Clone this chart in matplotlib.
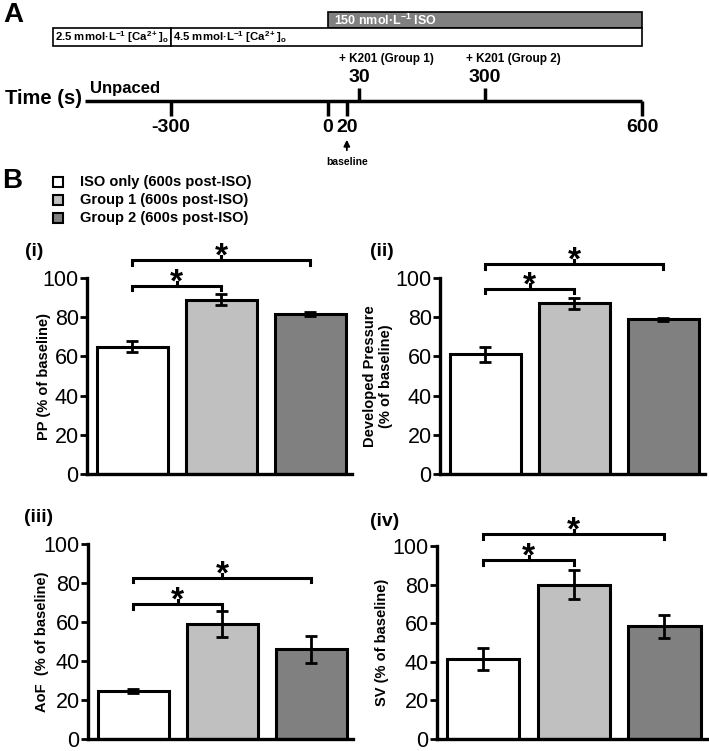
import numpy as np
import matplotlib
matplotlib.use('Agg')
import matplotlib.pyplot as plt
from matplotlib.patches import Rectangle

plt.rcParams['font.family'] = ['Liberation Sans', 'DejaVu Sans']
plt.rcParams['mathtext.fontset'] = 'custom'
plt.rcParams['mathtext.rm'] = 'Liberation Sans:bold'
plt.rcParams['mathtext.it'] = 'Liberation Sans:bold'
plt.rcParams['mathtext.bf'] = 'Liberation Sans:bold'

# ---- data ----
groups = ['ISO only (600s post-ISO)', 'Group 1 (600s post-ISO)', 'Group 2 (600s post-ISO)']
bar_colors = ['white', '#c0c0c0', '#808080']

panels = ['(i)', '(ii)', '(iii)', '(iv)']
ylabels = ['PP (% of baseline)', 'Developed Pressure\n(% of baseline)',
           'AoF  (% of baseline)', 'SV (% of baseline)']
means = [[65, 89, 81.5],
         [61, 87, 79],
         [24.5, 59, 46],
         [41.5, 80, 58.5]]
sems = [[3, 3, 1],
        [4, 3, 0.7],
        [1, 6.5, 7],
        [5.5, 7.5, 6]]
# significance bracket heights (short: ISO vs G1, long: ISO vs G2)
brk_short = [96, 94.5, 69, 92.5]
brk_long = [109, 107, 82.5, 106]

# timeline (seconds)
ca_times = [-525, -300, 600]
ca_labels = [r'2.5 mmol·L$^{-1}$ [Ca$^{2+}$]$_o$', r'4.5 mmol·L$^{-1}$ [Ca$^{2+}$]$_o$']
iso_times = [0, 600]
line_start = -465
down_ticks = [-300, 0, 20, 600]
up_ticks = [30, 300]
# schematic positions (0..30 s stretched so the labels don't overlap)
tick_pos = {-300: -300, 0: 0, 20: 36, 30: 59, 300: 300, 600: 600}

W, H = 709, 751
fig = plt.figure(figsize=(W / 100, H / 100), dpi=100)

# ---------------- panel A ----------------
pxs = 0.5233  # px per second
x0 = 328
axA = fig.add_axes([0, 1 - 170 / H, 1, 170 / H])
axA.set_xlim(-x0 / pxs, (W - x0) / pxs)
axA.set_ylim(170, 0)
axA.axis('off')

# boxes
axA.add_patch(Rectangle((iso_times[0], 12), iso_times[1] - iso_times[0], 16,
                        facecolor='#808080', edgecolor='black', lw=1.2))
axA.text(iso_times[0] + 6 / pxs, 20, r'150 nmol·L$^{-1}$ ISO', color='white',
         fontsize=9, fontweight='bold', va='center', ha='left')
for i in range(2):
    axA.add_patch(Rectangle((ca_times[i], 28), ca_times[i + 1] - ca_times[i], 18,
                            facecolor='white', edgecolor='black', lw=1.2))
    axA.text(ca_times[i] + 2 / pxs, 37, ca_labels[i], fontsize=8.2,
             fontweight='bold', va='center', ha='left')

# time line
axA.plot([line_start, 600], [101, 101], color='black', lw=2.5, solid_capstyle='butt')
for t in down_ticks:
    axA.plot([tick_pos[t]] * 2, [101, 116], color='black', lw=2.5, solid_capstyle='butt')
    axA.text(tick_pos[t], 127, str(t), fontsize=14, fontweight='bold', ha='center', va='center')
for t, lab in zip(up_ticks, ['+ K201 (Group 1)', '+ K201 (Group 2)']):
    axA.plot([tick_pos[t]] * 2, [101, 88], color='black', lw=2.5, solid_capstyle='butt')
    axA.text(tick_pos[t], 78, str(t), fontsize=14, fontweight='bold', ha='center', va='center')
    axA.text(tick_pos[t] + 28 / pxs, 59, lab, fontsize=8.5, fontweight='bold', ha='center', va='center')
axA.text(line_start - 3 / pxs, 98, 'Time (s)', fontsize=14.5, fontweight='bold', ha='right', va='center')
axA.text(line_start + 5 / pxs, 89, 'Unpaced', fontsize=12, fontweight='bold', ha='left', va='center')
axA.annotate('', xy=(tick_pos[20], 137), xytext=(tick_pos[20], 153),
             arrowprops=dict(arrowstyle='-|>', color='black', lw=1.3, mutation_scale=9))
axA.text(tick_pos[20], 162, 'baseline', fontsize=7.5, fontweight='bold', ha='center', va='center')

fig.text(3 / W, 1 - 15 / H, 'A', fontsize=20, fontweight='bold', va='center', ha='left')
fig.text(2 / W, 1 - 181 / H, 'B', fontsize=20, fontweight='bold', va='center', ha='left')

# legend
for i, (g, c) in enumerate(zip(groups, bar_colors)):
    yc = [182, 200, 218][i]
    fig.patches.append(Rectangle((53 / W, 1 - (yc + 5) / H), 10 / W, 10 / H,
                                 facecolor=c, edgecolor='black', lw=1.5,
                                 transform=fig.transFigure, figure=fig))
    fig.text(80 / W, 1 - yc / H, g, fontsize=10.5, fontweight='bold', va='center', ha='left')

# ---------------- panel B ----------------
# [left, right, top(=100), bottom(=0)] in px
boxes = [(87, 352, 278, 474), (440, 705, 278, 474),
         (88, 353, 544, 739), (437, 707, 546, 739)]
label_pos = [(25, 252), (370, 252), (24, 517), (370, 521)]
ylabel_x = [44, 378, 42, 382]

x = np.arange(3)
for k in range(4):
    l, r, t, b = boxes[k]
    ax = fig.add_axes([l / W, 1 - b / H, (r - l) / W, (b - t) / H])
    ax.bar(x, means[k], width=0.8, color=bar_colors, edgecolor='black', linewidth=2.2, zorder=2)
    ax.errorbar(x, means[k], yerr=sems[k], fmt='none', ecolor='black', elinewidth=2,
                capsize=4.5, capthick=2, zorder=3)
    ax.set_xlim(-0.51, 2.47)
    ax.set_ylim(0, 100)
    ax.set_yticks([0, 20, 40, 60, 80, 100])
    ax.set_xticks([])
    for s in ['top', 'right']:
        ax.spines[s].set_visible(False)
    for s in ['left', 'bottom']:
        ax.spines[s].set_linewidth(2.4)
    ax.tick_params(axis='y', labelsize=15.5, width=2, length=5, pad=1)

    # brackets
    for y0, xe, in [(brk_short[k], 1), (brk_long[k], 2)]:
        d = 2.2
        ax.plot([0, 0, xe, xe], [y0 - d, y0, y0, y0 - d], color='black', lw=2.2,
                clip_on=False, solid_joinstyle='miter')
        ax.plot([xe / 2, xe / 2], [y0, y0 + d], color='black', lw=2.2, clip_on=False)
        ax.text(xe / 2, y0 - 2.8, '*', fontsize=24, fontweight='bold', ha='center',
                va='baseline', clip_on=False)

    fig.text(label_pos[k][0] / W, 1 - label_pos[k][1] / H, panels[k], fontsize=14,
             fontweight='bold', va='center', ha='left')
    fig.text(ylabel_x[k] / W, 1 - (t + b) / 2 / H, ylabels[k], fontsize=10.5,
             fontweight='bold', va='center', ha='center', rotation=90, multialignment='center')

fig.savefig('out.png', dpi=100)
